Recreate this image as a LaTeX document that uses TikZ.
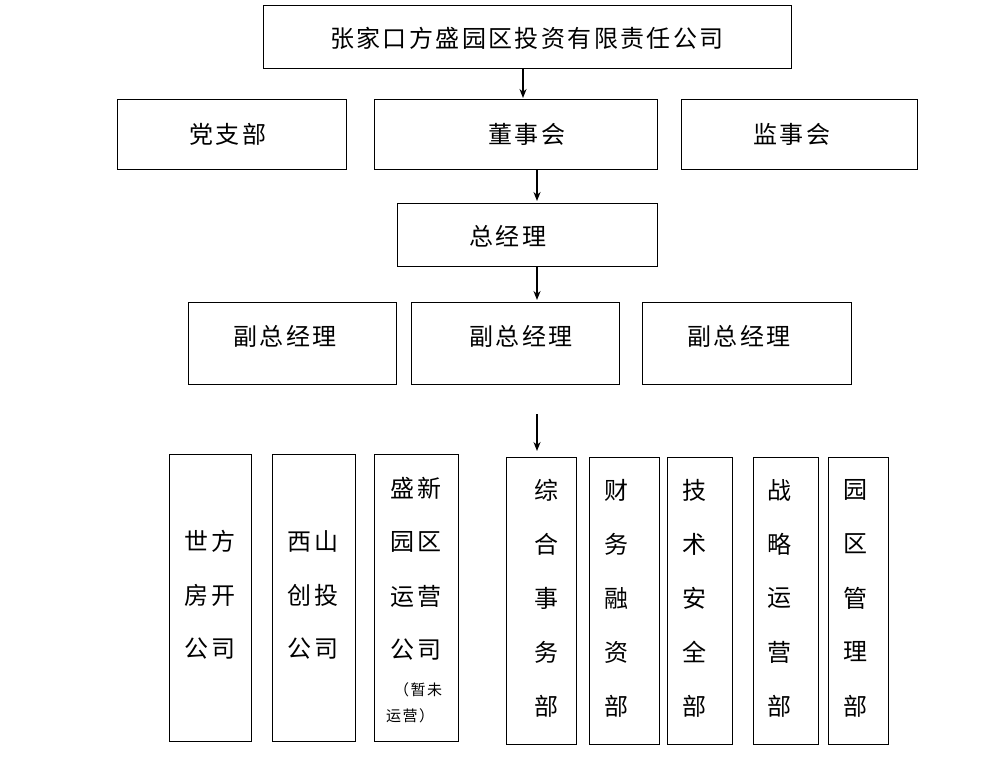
\documentclass[tikz,border=0pt]{standalone}
\usepackage{fontspec}
\newfontfamily\cjk[LetterSpace=10]{Noto Sans CJK SC}
\usetikzlibrary{arrows.meta}
\begin{document}
\begin{tikzpicture}[x=1pt,y=-1pt,
  box/.style={draw,line width=1pt},
  lbl/.style={font=\cjk\fontsize{24}{24}\selectfont},
  sml/.style={font=\cjk\fontsize{15}{15}\selectfont},
  arr/.style={-{Stealth[length=9pt,width=7pt]},line width=1.5pt}]
\useasboundingbox (0,0) rectangle (1007,761);
\newcommand\bx[5]{\draw[box] (#2,#3) rectangle (#4,#5); \coordinate (#1) at ({(#2+#4)/2},{(#3+#5)/2});}
\bx{top}{263}{5}{791}{68}
\node[lbl] at (527,38) {张家口方盛园区投资有限责任公司};
\bx{dzb}{117}{99}{346}{169} \node[lbl] at (228,134) {党支部};
\bx{dsh}{374}{99}{657}{169} \node[lbl] at (527,134) {董事会};
\bx{jsh}{681}{99}{917}{169} \node[lbl] at (792,134) {监事会};
\bx{zjl}{397}{203}{657}{266} \node[lbl] at (508,236) {总经理};
\bx{f1}{188}{302}{396}{384} \node[lbl] at (285,336) {副总经理};
\bx{f2}{411}{302}{619}{384} \node[lbl] at (521,336) {副总经理};
\bx{f3}{642}{302}{851}{384} \node[lbl] at (739,336) {副总经理};
\coordinate (a1s) at (523,68); \coordinate (a1e) at (523,98);
\coordinate (a2s) at (537,169); \coordinate (a2e) at (537,201);
\coordinate (a3s) at (537,266); \coordinate (a3e) at (537,300);
\coordinate (a4s) at (537,414); \coordinate (a4e) at (537,451);
\draw[arr] (a1s) -- (a1e);
\draw[arr] (a2s) -- (a2e);
\draw[arr] (a3s) -- (a3e);
\draw[arr] (a4s) -- (a4e);
\bx{c1}{169}{454}{251}{741}
\bx{c2}{272}{454}{355}{741}
\bx{c3}{374}{454}{458}{741}
\foreach \t [count=\i] in {世方,房开,公司} \node[lbl] at (210,487+54*\i) {\t};
\foreach \t [count=\i] in {西山,创投,公司} \node[lbl] at (313,487+54*\i) {\t};
\foreach \t [count=\i] in {盛新,园区,运营,公司} \node[lbl] at (416,434+54*\i) {\t};
\node[sml] at (418,690) {（暂未};
\node[sml] at (410,716) {运营）};
\bx{d1}{506}{457}{576}{744}
\bx{d2}{589}{457}{659}{744}
\bx{d3}{667}{457}{732}{744}
\bx{d4}{753}{457}{818}{744}
\bx{d5}{828}{457}{888}{744}
\foreach \c [count=\i] in {综,合,事,务,部} \node[lbl] at (546,436+54*\i) {\c};
\foreach \c [count=\i] in {财,务,融,资,部} \node[lbl] at (616,436+54*\i) {\c};
\foreach \c [count=\i] in {技,术,安,全,部} \node[lbl] at (694,436+54*\i) {\c};
\foreach \c [count=\i] in {战,略,运,营,部} \node[lbl] at (779,436+54*\i) {\c};
\foreach \c [count=\i] in {园,区,管,理,部} \node[lbl] at (855,436+54*\i) {\c};
\end{tikzpicture}
\end{document}
